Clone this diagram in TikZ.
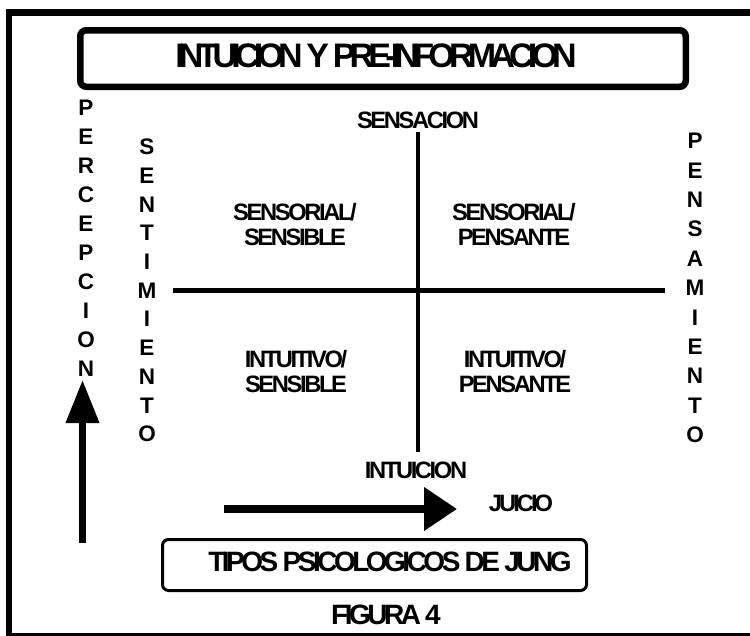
\documentclass[tikz,border=0pt]{standalone}
\usepackage{fontspec}
\setmainfont{Liberation Sans}
\usetikzlibrary{arrows.meta}
\newcommand\condfont[2]{\bfseries\fontsize{#1}{25}\selectfont\addfontfeature{LetterSpace=#2}}
\begin{document}
\begin{tikzpicture}[x=1pt,y=-1pt,
  frame/.style={line width=6.5pt},
  headbox/.style={draw, line width=6.5pt, rounded corners=6pt, inner sep=0pt},
  footbox/.style={draw, line width=3pt, rounded corners=6pt, inner sep=0pt},
  axis/.style={line width=4.5pt},
  bigarrow/.style={line width=7.5pt},
  vletter/.style={inner sep=0pt, font=\bfseries\fontsize{22.5}{22.5}\selectfont},
  quad/.style={inner sep=0pt, align=center, font={\condfont{23.7}{-10}}},
  titletext/.style={inner sep=0pt, font={\condfont{34}{-17}}},
  foottext/.style={inner sep=0pt, font={\condfont{28}{-12.5}}}
]
\path[use as bounding box, fill=white] (0,0) rectangle (750,635);
\begin{scope}
\clip (0,0) rectangle (750,635);
\draw[frame] (9,12.3) rectangle (780,636);
\end{scope}

% header box
\node[headbox, minimum width=605.5pt, minimum height=56.5pt] (headbox) at (383,58.5) {};
\node[titletext] (title) at (376,56) {INTUICION Y PRE-INFORMACION};

% axes
\node[quad] (sens) at (418,120) {SENSACION};
\node[quad] (intu) at (416,470) {INTUICION};
\coordinate (vtop) at (418,132);
\coordinate (vbot) at (418,452);
\coordinate (hleft) at (173,290);
\coordinate (hright) at (665,290);
\draw[axis] (vtop) -- (vbot);
\draw[axis, line width=5pt] (hleft) -- (hright);

% quadrant labels
\node[quad] (q1) at (295,225) {SENSORIAL/\\SENSIBLE};
\node[quad] (q2) at (514,225) {SENSORIAL/\\PENSANTE};
\node[quad] (q3) at (296,372) {INTUITIVO/\\SENSIBLE};
\node[quad] (q4) at (515,372) {INTUITIVO/\\PENSANTE};

% vertical words
\foreach \l [count=\i] in {P,E,R,C,E,P,C,I,O,N}
  \node[vletter] (perc\i) at (86,{108+29*(\i-1)}) {\l};
\foreach \l [count=\i] in {S,E,N,T,I,M,I,E,N,T,O}
  \node[vletter] (sent\i) at (147,{147+28.7*(\i-1)}) {\l};
\foreach \l [count=\i] in {P,E,N,S,A,M,I,E,N,T,O}
  \node[vletter] (pens\i) at (695,{141+29.4*(\i-1)}) {\l};

% arrows
\coordinate (vas) at (82.5,543);
\coordinate (vae) at (82.5,380);
\draw[bigarrow, line width=7pt, -{Triangle[length=43pt,width=32pt]}] (vas) -- (vae);
\coordinate (has) at (224,509);
\coordinate (hae) at (457,509);
\draw[bigarrow, -{Triangle[length=33pt,width=42pt]}] (has) -- (hae);
\node[quad, font={\condfont{23.7}{-12.5}}] (juicio) at (521,503) {JUICIO};

% footer
\node[footbox, minimum width=424pt, minimum height=51pt] (footbox) at (374.5,565) {};
\node[foottext] (jung) at (390,562) {TIPOS PSICOLOGICOS DE JUNG};
\node[foottext] (fig) at (386,615) {FIGURA 4};
\end{tikzpicture}
\end{document}
